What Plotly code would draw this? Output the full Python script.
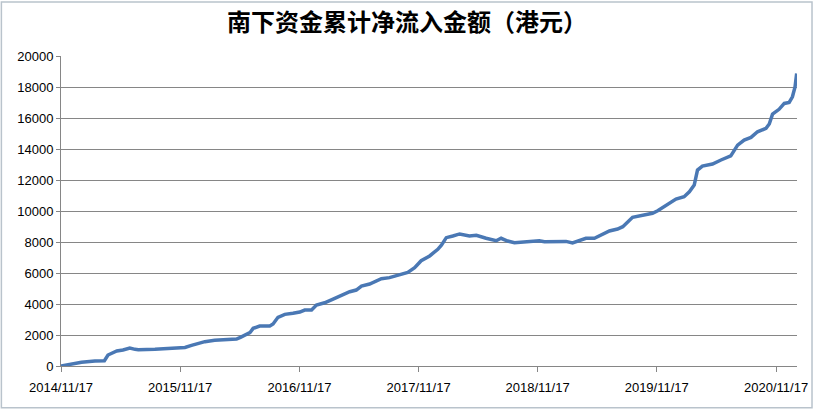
import plotly.graph_objects as go

dates = [
    "2014-11-17", "2015-01-19", "2015-03-01", "2015-03-30", "2015-04-10", "2015-05-07",
    "2015-05-26", "2015-06-16", "2015-07-02", "2015-07-12", "2015-09-01", "2015-09-21",
    "2015-10-12", "2015-12-02", "2015-12-22", "2016-02-01", "2016-03-02", "2016-04-02",
    "2016-05-08", "2016-05-20", "2016-06-18", "2016-06-28", "2016-07-18", "2016-08-18",
    "2016-08-28", "2016-09-12", "2016-10-03", "2016-10-28", "2016-11-18", "2016-12-03",
    "2016-12-24", "2017-01-08", "2017-02-02", "2017-02-28", "2017-03-25", "2017-04-20",
    "2017-05-10", "2017-05-26", "2017-06-20", "2017-07-11", "2017-07-26", "2017-08-20",
    "2017-09-20", "2017-10-15", "2017-11-05", "2017-11-25", "2017-12-21", "2018-01-15",
    "2018-01-26", "2018-02-10", "2018-03-02", "2018-03-23", "2018-04-22", "2018-05-13",
    "2018-06-12", "2018-07-13", "2018-07-28", "2018-08-17", "2018-09-07", "2018-10-02",
    "2018-10-28", "2018-11-22", "2018-12-08", "2019-01-17", "2019-02-12", "2019-03-04",
    "2019-03-25", "2019-04-14", "2019-05-10", "2019-05-30", "2019-06-25", "2019-07-20",
    "2019-08-05", "2019-09-04", "2019-10-05", "2019-11-04", "2019-11-20", "2019-12-15",
    "2020-01-15", "2020-02-09", "2020-02-25", "2020-03-11", "2020-03-21", "2020-04-05",
    "2020-05-06", "2020-06-01", "2020-07-01", "2020-07-22", "2020-08-11", "2020-09-01",
    "2020-09-21", "2020-10-17", "2020-10-27", "2020-11-06", "2020-11-26", "2020-12-12",
    "2020-12-27", "2021-01-06", "2021-01-14", "2021-01-19",
]
cum_inflow = [
    0, 240, 320, 340, 710, 970,
    1030, 1160, 1075, 1050, 1075, 1100,
    1120, 1200, 1330, 1570, 1660, 1720,
    1740, 1850, 2150, 2430, 2580, 2580,
    2710, 3140, 3330, 3400, 3480, 3610,
    3610, 3930, 4080, 4320, 4580, 4790,
    4900, 5160, 5290, 5460, 5630, 5700,
    5890, 6040, 6340, 6790, 7100, 7530,
    7800, 8280, 8390, 8520, 8390, 8430,
    8240, 8080, 8240, 8060, 7950, 8000,
    8080, 8080, 8020, 8000, 8040, 7940,
    8080, 8240, 8240, 8450, 8710, 8840,
    8990, 9590, 9700, 9850, 10020, 10380,
    10770, 10920, 11240, 11670, 12640, 12900,
    13030, 13290, 13560, 14250, 14580, 14750,
    15110, 15330, 15610, 16250, 16560, 16940,
    17010, 17370, 18010, 18880,
]
tick_dates = ["2014-11-17", "2015-11-17", "2016-11-17", "2017-11-17",
              "2018-11-17", "2019-11-17", "2020-11-17"]
tick_labels = ["2014/11/17", "2015/11/17", "2016/11/17", "2017/11/17",
               "2018/11/17", "2019/11/17", "2020/11/17"]
y_ticks = [0, 2000, 4000, 6000, 8000, 10000, 12000, 14000, 16000, 18000, 20000]
y_labels = [str(v) for v in y_ticks]
title_text = "南下资金累计净流入金额（港元）"

fig = go.Figure()
fig.add_trace(go.Scatter(
    x=dates, y=cum_inflow, mode="lines",
    line=dict(color="#4a78b4", width=3.5),
    showlegend=False, hoverinfo="x+y",
))

fig.update_layout(
    width=814, height=411, autosize=False,
    margin=dict(l=61, r=17, t=56, b=45, autoexpand=False),
    paper_bgcolor="white", plot_bgcolor="white",
    title=dict(text=title_text, x=0.5, xanchor="center", y=0.945, yanchor="middle",
               font=dict(family="Noto Sans CJK SC", size=24, color="black", weight=600)),
    font=dict(family="Liberation Sans", size=13, color="black"),
    xaxis=dict(
        type="date", range=["2014-11-17", "2021-01-20"],
        tickmode="array", tickvals=tick_dates, ticktext=tick_labels,
        showgrid=False, showline=True, linecolor="#868686", linewidth=1,
        ticks="outside", ticklen=5, tickcolor="#868686", ticklabelstandoff=4,
        tickfont=dict(family="Liberation Sans", size=13, color="black"),
        zeroline=False, fixedrange=True, automargin=False,
    ),
    yaxis=dict(
        range=[0, 20000], tickmode="array", tickvals=y_ticks, ticktext=y_labels,
        showgrid=True, gridcolor="#868686", gridwidth=1,
        showline=True, linecolor="#868686", linewidth=1,
        ticks="outside", ticklen=4, tickcolor="#868686",
        tickfont=dict(family="Liberation Sans", size=13, color="black"),
        zeroline=False, fixedrange=True, automargin=False,
    ),
    shapes=[dict(
        type="rect", xref="paper", yref="paper",
        x0=-0.081, x1=1.0204, y0=-0.135, y1=1.174,
        line=dict(color="#b9c3cc", width=1.5), fillcolor="rgba(0,0,0,0)", layer="below",
    )],
)

fig.write_html("out.html", config={"displayModeBar": False, "responsive": False})

with open("out.html", "r", encoding="utf-8") as f:
    html = f.read()
html = html.replace("<body>", '<body style="margin:0;padding:0;overflow:hidden">', 1)
with open("out.html", "w", encoding="utf-8") as f:
    f.write(html)
